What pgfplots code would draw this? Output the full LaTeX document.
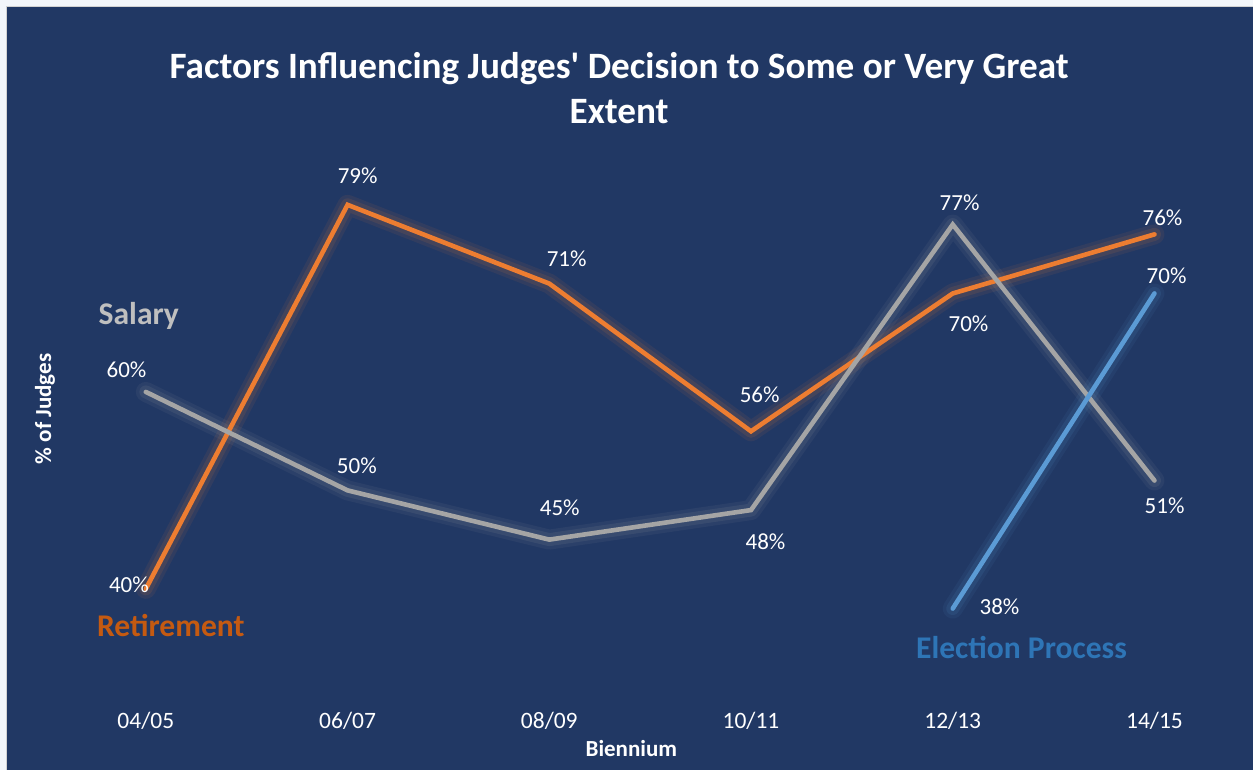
\documentclass[border=0pt]{standalone}
\usepackage{pgfplots}
\pgfplotsset{compat=1.18}
\usepackage{pgfplotstable}
\usepackage{fontspec}
\setmainfont{Carlito}
\newfontfamily\titlefont{Carlito}
\definecolor{bgnavy}{HTML}{213864}
\definecolor{rorange}{HTML}{ED7D31}
\definecolor{sgrey}{HTML}{A5A5A5}
\definecolor{eblue}{HTML}{5B9BD5}
\definecolor{rtext}{HTML}{C55A11}
\definecolor{stext}{HTML}{BFBFBF}
\definecolor{etext}{HTML}{2E75B6}
\definecolor{edge}{HTML}{F3F6FA}

\pgfplotstableread{
x y
0 40
1 79
2 71
3 56
4 70
5 76
}\retirement
\pgfplotstableread{
x y
0 60
1 50
2 45
3 48
4 77
5 51
}\salary
\pgfplotstableread{
x y
4 38
5 70
}\election

\pgfplotsset{
  glowA/.style={line width=10pt, opacity=0.08, line cap=round, line join=round},
  glowB/.style={line width=6.5pt, opacity=0.11, line cap=round, line join=round},
  mainline/.style={line width=2.3pt, line cap=round, line join=miter},
}
\tikzset{
  lbl/.style={text=white, font=\fontsize{11.5}{13}\selectfont, anchor=center, inner sep=0pt},
  sname/.style={font=\fontsize{15.8}{18}\selectfont\bfseries, anchor=center, inner sep=0pt},
}

\begin{document}
\begin{tikzpicture}
\fill[edge] (0,0) rectangle (626.5pt,385pt);
\fill[bgnavy] (3.5pt,0) rectangle (626.5pt,381.5pt);
\draw[gray!35, line width=0.5pt] (3.5pt,0) -- (3.5pt,381.5pt) -- (626.5pt,381.5pt);
\begin{axis}[
  at={(22.5pt,41.2pt)}, anchor=south west,
  scale only axis, width=604pt, height=270.9pt,
  xmin=-0.5, xmax=5.486, ymin=30, ymax=85,
  clip=false,
  axis line style={draw=none},
  major tick length=0pt,
  ytick=\empty,
  xtick={0,1,2,3,4,5},
  xticklabels={04/05,06/07,08/09,10/11,12/13,14/15},
  xticklabel style={text=white, font=\fontsize{11.75}{14}\selectfont, anchor=base, yshift=-20.5pt},
  xlabel={Biennium},
  xlabel style={at={(axis description cs:0.4856,-0.1285)}, anchor=base, text=white, font=\fontsize{11.5}{14}\selectfont\bfseries},
  ylabel={\% of Judges},
  ylabel style={at={(axis description cs:0,0.514)}, rotate=0, anchor=center, text=white, font=\fontsize{11.5}{14}\selectfont\bfseries},
  title={Factors Influencing Judges' Decision to Some or Very Great\\Extent},
  title style={at={(axis description cs:0.4755,1.085)}, anchor=center, text=white, font=\titlefont\fontsize{18.6}{22.5}\selectfont\bfseries, align=center},
]
% glows
\addplot[rorange, glowA] table {\retirement};
\addplot[rorange, glowB] table {\retirement};
\addplot[sgrey, glowA] table {\salary};
\addplot[sgrey, glowB] table {\salary};
\addplot[eblue, glowA] table {\election};
\addplot[eblue, glowB] table {\election};
% lines
\addplot[rorange, mainline] table {\retirement};
\addplot[sgrey, mainline] table {\salary};
\addplot[eblue, mainline] table {\election};

% data labels: Retirement
\node[lbl] at (axis cs:-0.084,40.45) {40\%};
\node[lbl] at (axis cs:1.050,81.94) {79\%};
\node[lbl] at (axis cs:2.086,73.51) {71\%};
\node[lbl] at (axis cs:3.043,59.72) {56\%};
\node[lbl] at (axis cs:4.078,66.91) {70\%};
\node[lbl] at (axis cs:5.040,77.67) {76\%};
% Salary
\node[lbl] at (axis cs:-0.096,62.25) {60\%};
\node[lbl] at (axis cs:1.046,52.50) {50\%};
\node[lbl] at (axis cs:2.052,48.23) {45\%};
\node[lbl] at (axis cs:3.072,44.78) {48\%};
\node[lbl] at (axis cs:4.034,79.20) {77\%};
\node[lbl] at (axis cs:5.050,48.44) {51\%};
% Election
\node[lbl] at (axis cs:4.232,38.16) {38\%};
\node[lbl] at (axis cs:5.060,71.79) {70\%};

% series names
\node[sname, text=stext] at (axis cs:-0.035,67.73) {Salary};
\node[sname, text=rtext] at (axis cs:0.124,36.24) {Retirement};
\node[sname, text=etext] at (axis cs:4.341,34.02) {Election Process};
\end{axis}
\end{tikzpicture}
\end{document}
